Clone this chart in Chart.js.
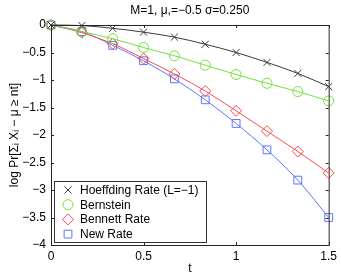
<!DOCTYPE html>
<html>
<head>
<meta charset="utf-8">
<script src="https://cdn.jsdelivr.net/npm/chart.js@4.4.0/dist/chart.umd.min.js"></script>
<style>
  html, body { margin: 0; padding: 0; background: #fff; }
  canvas { display: block; }
</style>
</head>
<body>
<canvas id="graficoTaxas" width="341" height="276"></canvas>
<script>
// dados
const tempos = [0, 0.1667, 0.3333, 0.5, 0.6667, 0.8333, 1, 1.1667, 1.3333, 1.5];
const hoeffding = [0, -0.01, -0.06, -0.13, -0.22, -0.35, -0.50, -0.68, -0.88, -1.12];
const bernstein = [0, -0.12, -0.25, -0.41, -0.56, -0.73, -0.90, -1.06, -1.21, -1.38];
const bennett = [0, -0.14, -0.34, -0.61, -0.89, -1.20, -1.56, -1.93, -2.30, -2.69];
const novaTaxa = [0, -0.12, -0.37, -0.65, -0.98, -1.36, -1.79, -2.27, -2.82, -3.50];
const nomesSeries = ['Hoeffding Rate (L=\u22121)', 'Bernstein', 'Bennett Rate', 'New Rate'];
const ticksX = [0, 0.5, 1, 1.5];
const tituloGrafico = 'M=1, \u03bc,=\u22120.5 \u03c3=0.250';
const rotuloY = 'log Pr[\u03a3\u1d62 X\u1d62 \u2212 \u03bc \u2265 nt]';
const rotuloX = 't';

const FONTE = '"Liberation Sans", Arial, sans-serif';
const GRAF_TAXAS = document.getElementById('graficoTaxas');

function pontos(valores) {
    return tempos.map((t, i) => ({ x: t, y: valores[i] }));
}

function serie(nome, valores, cor, estilo, raio) {
    return {
        label: nome,
        data: pontos(valores),
        borderColor: cor,
        borderWidth: 1,
        pointStyle: estilo,
        pointRadius: raio,
        pointBorderColor: cor,
        pointBackgroundColor: 'rgba(0,0,0,0)',
        pointBorderWidth: 1,
        cubicInterpolationMode: 'monotone',
        clip: false
    };
}

const formatarTick = v => (v < 0 ? '\u2212' + String(-v) : String(v));

// moldura, ticks internos, titulo e legenda no estilo matlab
const molduraPlugin = {
    id: 'moldura',
    afterDraw(chart) {
        const { ctx, chartArea: a, scales: { x, y } } = chart;
        ctx.save();
        ctx.strokeStyle = '#262626';
        ctx.lineWidth = 1;
        ctx.strokeRect(a.left + 0.5, a.top + 0.5, a.right - a.left, a.bottom - a.top);
        ctx.beginPath();
        x.ticks.forEach(t => {
            const px = Math.round(x.getPixelForValue(t.value)) + 0.5;
            ctx.moveTo(px, a.bottom); ctx.lineTo(px, a.bottom - 3);
            ctx.moveTo(px, a.top); ctx.lineTo(px, a.top + 3);
        });
        y.ticks.forEach(t => {
            const py = Math.round(y.getPixelForValue(t.value)) + 0.5;
            ctx.moveTo(a.left, py); ctx.lineTo(a.left + 3, py);
            ctx.moveTo(a.right, py); ctx.lineTo(a.right - 3, py);
        });
        ctx.stroke();

        ctx.fillStyle = '#000';
        ctx.font = '12px ' + FONTE;
        ctx.textAlign = 'center';
        ctx.textBaseline = 'middle';
        ctx.fillText(tituloGrafico, (a.left + a.right) / 2, 11);

        // legenda
        const lx = a.left + 3, larg = 152, alt = 61;
        const ly = a.bottom - 3 - alt;
        ctx.fillStyle = '#fff';
        ctx.fillRect(lx, ly, larg, alt);
        ctx.strokeStyle = '#333';
        ctx.strokeRect(lx + 0.5, ly + 0.5, larg, alt);
        ctx.textAlign = 'left';
        chart.data.datasets.forEach((ds, i) => {
            const cy = ly + 9 + i * 14.7;
            ctx.strokeStyle = ds.pointBorderColor;
            ctx.fillStyle = 'rgba(0,0,0,0)';
            ctx.lineWidth = 1;
            Chart.helpers.drawPoint(ctx, {
                pointStyle: ds.pointStyle, radius: ds.pointRadius, rotation: 0, borderWidth: 1
            }, lx + 14, cy);
            ctx.fillStyle = '#000';
            ctx.fillText(ds.label, lx + 26, cy + 0.5);
        });
        ctx.restore();
    }
};

new Chart(GRAF_TAXAS, {
    type: 'line',
    data: {
        datasets: [
            serie(nomesSeries[0], hoeffding, '#3a3a3a', 'crossRot', 5),
            serie(nomesSeries[1], bernstein, '#72e03c', 'circle', 5),
            serie(nomesSeries[2], bennett, '#ff4a4a', 'rectRot', 5.5),
            serie(nomesSeries[3], novaTaxa, '#5878ff', 'rect', 5.5)
        ]
    },
    options: {
        responsive: false,
        animation: false,
        layout: { padding: { top: 25, right: 12, left: 0, bottom: 0 } },
        plugins: {
            legend: { display: false },
            title: { display: false },
            tooltip: { enabled: false }
        },
        scales: {
            x: {
                type: 'linear',
                min: 0,
                max: 1.5,
                afterBuildTicks: s => { s.ticks = ticksX.map(v => ({ value: v })); },
                afterFit: s => { s.height = 31; },
                grid: { display: false, drawTicks: false },
                border: { display: false },
                ticks: { padding: 4, color: '#000', font: { family: FONTE, size: 12 }, callback: formatarTick, maxRotation: 0 },
                title: { display: true, text: rotuloX, color: '#000', font: { family: FONTE, size: 12 }, padding: { top: 0, bottom: 0 } }
            },
            y: {
                type: 'linear',
                min: -4,
                max: 0,
                afterFit: s => { s.width = 51; },
                grid: { display: false, drawTicks: false },
                border: { display: false },
                ticks: { stepSize: 0.5, padding: 5, color: '#000', font: { family: FONTE, size: 12 }, callback: formatarTick },
                title: { display: true, text: rotuloY, color: '#000', font: { family: FONTE, size: 12 }, padding: { top: 7, bottom: 0 } }
            }
        }
    },
    plugins: [molduraPlugin]
});
</script>
</body>
</html>
